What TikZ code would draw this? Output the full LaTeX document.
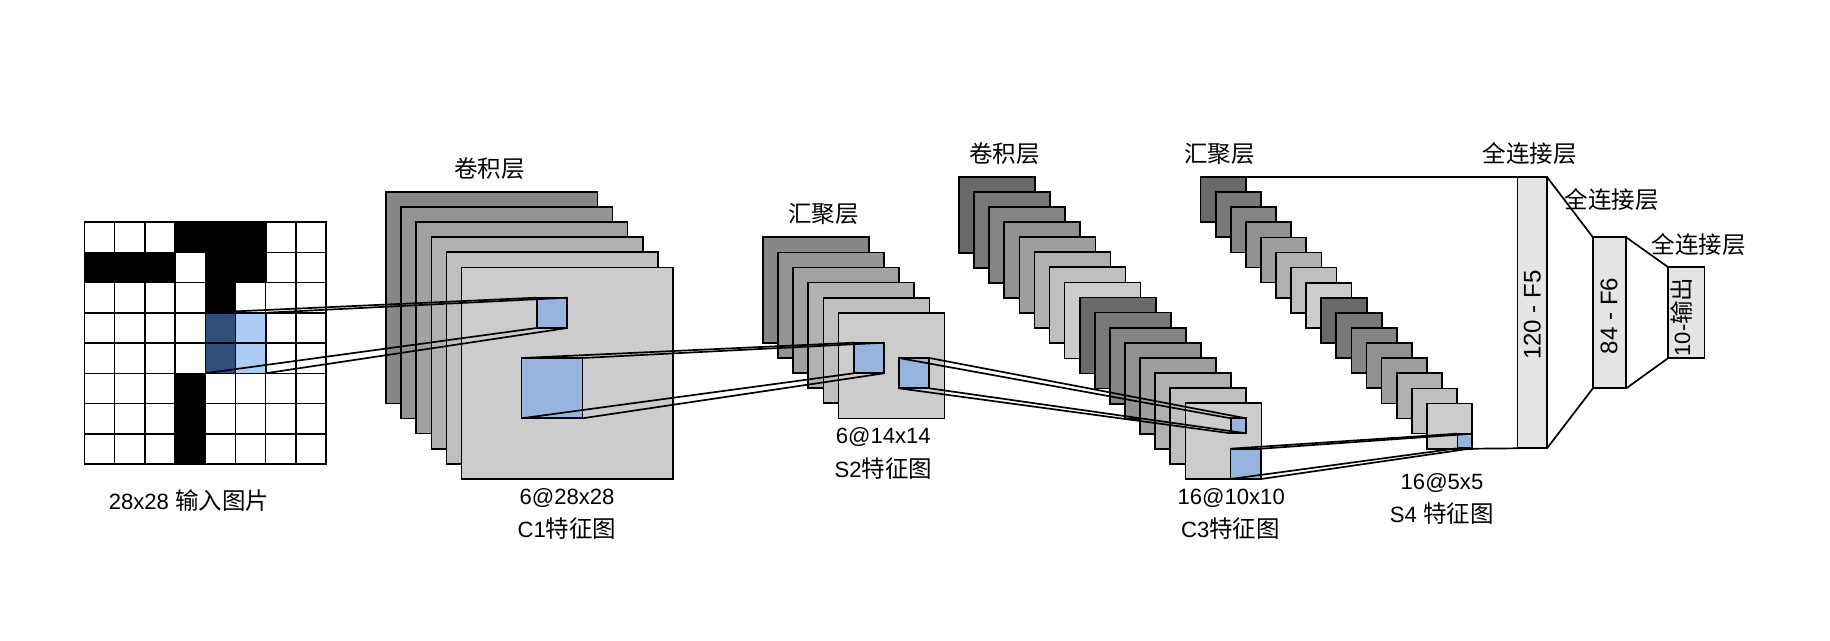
\documentclass[tikz,border=0pt]{standalone}
\usepackage{fontspec}
\setmainfont[Scale=0.94]{Liberation Sans}
\newfontfamily\cjk{Noto Sans CJK SC}
\newcommand{\zh}[1]{{\cjk #1}}
\definecolor{blueA}{HTML}{96B4DE}
\definecolor{blueDark}{HTML}{324F7B}
\definecolor{blueLight}{HTML}{AECBF5}
\definecolor{fcfill}{HTML}{E4E4E4}
\tikzset{
  bx/.style={draw=black,rectangle,anchor=north west,inner sep=0pt,outer sep=0pt,line width=1.7pt},
  cellbox/.style={bx,minimum width=30.25pt,minimum height=30.25pt,line width=1.5pt},
  lbl/.style={font=\fontsize{23.5}{25}\selectfont,inner sep=0pt,text=black},
  vlbl/.style={font=\fontsize{25.6}{27}\selectfont,inner sep=0pt,text=black,rotate=90},
  conn/.style={draw=black,line width=1.7pt},
  fclink/.style={draw=black,line width=1.7pt}
}
% name, x, y, w, h, fill
\newcommand{\bxn}[6]{\node[bx,fill=#6,minimum width=#4pt,minimum height=#5pt] (#1) at (#2,#3) {};}
\begin{document}
\begin{tikzpicture}[x=1pt,y=-1pt]
\useasboundingbox[fill=white] (0,0) rectangle (1830,640);
% input grid
\foreach \r in {0,...,7}{
  \foreach \c in {0,...,7}{
    \pgfmathsetmacro{\xx}{84.5+30.2*\c}
    \pgfmathsetmacro{\yy}{222+30.25*\r}
    \node[cellbox,fill=white] (cell-\r-\c) at (\xx,\yy) {};
  }
}
\foreach \r/\c in {0/3,0/4,0/5,1/0,1/1,1/2,1/4,1/5,2/4,5/3,6/3,7/3}{
  \pgfmathsetmacro{\xx}{84.5+30.2*\c}
  \pgfmathsetmacro{\yy}{222+30.25*\r}
  \node[cellbox,fill=black] at (\xx,\yy) {};
}
\foreach \r/\c/\f in {3/4/blueDark,4/4/blueDark,3/5/blueLight,4/5/blueLight}{
  \pgfmathsetmacro{\xx}{84.5+30.2*\c}
  \pgfmathsetmacro{\yy}{222+30.25*\r}
  \node[cellbox,fill=\f] at (\xx,\yy) {};
}
% C1 stack
\foreach \i/\g in {0/53,1/58,2/63,3/70,4/75,5/80}{
  \pgfmathsetmacro{\xx}{386.2+15.05*\i}
  \pgfmathsetmacro{\yy}{191.9+15.1*\i}
  \node[bx,fill=black!\the\numexpr100-\g\relax!white,minimum width=211.3pt,minimum height=211.5pt] (c1-\i) at (\xx,\yy) {};
}
\bxn{c1a}{536.7}{297.7}{30.4}{30.3}{blueA}
\bxn{c1b}{521.6}{358}{60.8}{60.3}{blueA}
% S2 stack
\foreach \i/\g in {0/53,1/58,2/63,3/70,4/75,5/80}{
  \pgfmathsetmacro{\xx}{763+15.1*\i}
  \pgfmathsetmacro{\yy}{237.3+15.1*\i}
  \node[bx,fill=black!\the\numexpr100-\g\relax!white,minimum width=106pt,minimum height=105.6pt] (s2-\i) at (\xx,\yy) {};
}
\bxn{s2a}{853.7}{342.7}{30.3}{30.6}{blueA}
\bxn{s2b}{899}{358}{30.3}{30.3}{blueA}
% C3 stack
\foreach \i/\g in {0/41,1/47,2/52,3/57,4/62,5/69,6/75,7/80,8/41,9/47,10/52,11/57,12/62,13/69,14/75,15/80}{
  \pgfmathsetmacro{\xx}{959+15.09*\i}
  \pgfmathsetmacro{\yy}{176.7+15.1*\i}
  \node[bx,fill=black!\the\numexpr100-\g\relax!white,minimum width=76pt,minimum height=76pt] (c3-\i) at (\xx,\yy) {};
}
\bxn{c3a}{1230.7}{418.3}{15.3}{15}{blueA}
\bxn{c3b}{1230.5}{448.7}{30.5}{30.3}{blueA}
% S4 stack
\foreach \i/\g in {0/41,1/47,2/52,3/57,4/62,5/69,6/75,7/80,8/41,9/47,10/52,11/57,12/62,13/69,14/75,15/80}{
  \pgfmathsetmacro{\xx}{1200.6+15.08*\i}
  \pgfmathsetmacro{\yy}{177+15.1*\i}
  \node[bx,fill=black!\the\numexpr100-\g\relax!white,minimum width=45.4pt,minimum height=45.2pt] (s4-\i) at (\xx,\yy) {};
}
\bxn{s4a}{1457.4}{433.7}{14.9}{14.6}{blueA}
% fully connected
\bxn{f5}{1517.5}{177}{29.5}{271.3}{fcfill}
\bxn{f6}{1592.9}{237.3}{33.3}{151}{fcfill}
\bxn{out}{1668.3}{267.3}{36.3}{90.7}{fcfill}
% connectors
\draw[conn] (cell-3-4.north west) -- (c1a.north west);
\draw[conn] (cell-3-5.north east) -- (c1a.north east);
\draw[conn] (cell-4-4.south west) -- (c1a.south west);
\draw[conn] (cell-4-5.south east) -- (c1a.south east);
\draw[conn] (c1b.north west) -- (s2a.north west);
\draw[conn] (c1b.north east) -- (s2a.north east);
\draw[conn] (c1b.south west) -- (s2a.south west);
\draw[conn] (c1b.south east) -- (s2a.south east);
\draw[conn] (s2b.north west) -- (c3a.north west);
\draw[conn] (s2b.north east) -- (c3a.north east);
\draw[conn] (s2b.south west) -- (c3a.south west);
\draw[conn] (s2b.south east) -- (c3a.south east);
\draw[conn] (c3b.north west) -- (s4a.north west);
\draw[conn] (c3b.north east) -- (s4a.north east);
\draw[conn] (c3b.south west) -- (s4a.south west);
\draw[conn] (c3b.south east) -- (s4a.south east);
\draw[fclink] (s4-0.north east) -- (f5.north west);
\draw[fclink] (s4-15.south east) -- (f5.south west);
\draw[fclink] (f5.north east) -- (f6.north west);
\draw[fclink] (f5.south east) -- (f6.south west);
\draw[fclink] (f6.north east) -- (out.north west);
\draw[fclink] (f6.south east) -- (out.south west);
% labels
\node[lbl] (t1) at (189,501) {28x28 \zh{输入图片}};
\node[lbl] (t2) at (489.5,168.3) {\zh{卷积层}};
\node[lbl] (t3) at (567,498) {6@28x28};
\node[lbl] (t4) at (567,528.3) {C1\zh{特征图}};
\node[lbl] (t5) at (823.3,214) {\zh{汇聚层}};
\node[lbl] (t6) at (883.3,437.3) {6@14x14};
\node[lbl] (t7) at (883.3,468.3) {S2\zh{特征图}};
\node[lbl] (t8) at (1004.3,154) {\zh{卷积层}};
\node[lbl] (t9) at (1219.5,154) {\zh{汇聚层}};
\node[lbl] (t10) at (1231.2,497.7) {16@10x10};
\node[lbl] (t11) at (1230.5,528.3) {C3\zh{特征图}};
\node[lbl] (t12) at (1442,482.7) {16@5x5};
\node[lbl] (t13) at (1441.7,513.3) {S4 \zh{特征图}};
\node[lbl] (t14) at (1529.5,154) {\zh{全连接层}};
\node[lbl] (t15) at (1611.5,199.3) {\zh{全连接层}};
\node[lbl] (t16) at (1698.5,244.3) {\zh{全连接层}};
\node[vlbl] (t17) at (1532.4,315) {120 - F5};
\node[vlbl] (t18) at (1609,316) {84 - F6};
\node[lbl,rotate=90] (t19) at (1681,317) {10-\zh{输出}};
\end{tikzpicture}
\end{document}
